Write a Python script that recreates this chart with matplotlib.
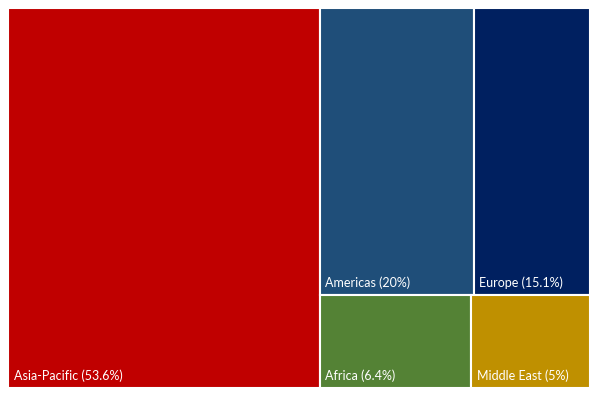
import matplotlib.pyplot as plt
from matplotlib.patches import Rectangle

regions = ["Asia-Pacific", "Americas", "Europe", "Africa", "Middle East"]
shares = [53.6, 20, 15.1, 6.4, 5]
colors = ["#C00000", "#1F4E79", "#002060", "#548235", "#BF9000"]

plt.rcParams['font.family'] = ['Lato', 'DejaVu Sans']


def layout(vals):
    # one big column on the left, two rows of two on the right
    total = sum(vals)
    w0 = vals[0] / total
    rest = total - vals[0]
    top = vals[1] + vals[2]
    bot = vals[3] + vals[4]
    h_top = top / rest
    rects = [(0, 0, w0, 1)]
    rw = 1 - w0
    wa = rw * vals[1] / top
    rects.append((w0, 1 - h_top, wa, h_top))
    rects.append((w0 + wa, 1 - h_top, rw - wa, h_top))
    wb = rw * vals[3] / bot
    rects.append((w0, 0, wb, 1 - h_top))
    rects.append((w0 + wb, 0, rw - wb, 1 - h_top))
    return rects


fig = plt.figure(figsize=(5.99, 3.98), dpi=100)
ax = fig.add_axes([8 / 599, 10 / 398, 582 / 599, 380 / 398])
ax.set_xlim(0, 1)
ax.set_ylim(0, 1)
ax.axis('off')

for (x, y, w, h), name, v, c in zip(layout(shares), regions, shares, colors):
    ax.add_patch(Rectangle((x, y), w, h, facecolor=c, edgecolor='white', linewidth=1.5))
    ax.annotate(f"{name} ({v:g}%)", (x, y), xytext=(4, 4), textcoords='offset points',
                color='white', fontsize=9, ha='left', va='bottom')

fig.savefig('out.png', dpi=100)
